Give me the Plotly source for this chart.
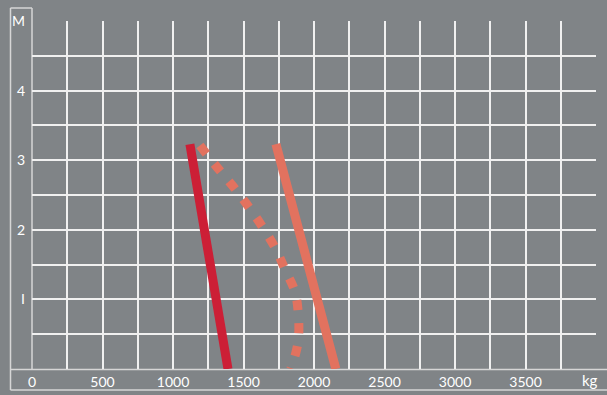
import plotly.graph_objects as go

# Data
x_ticks = list(range(0, 4001, 250))
x_labels = [str(v) if v % 500 == 0 and v < 4000 else "" for v in x_ticks]
y_ticks = [i * 0.5 for i in range(11)]
y_labels = ["" if v != int(v) or v == 0 else ("M" if v == 5 else ("I" if v == 1 else str(int(v)))) for v in y_ticks]

solid_dark_kg = [1120, 1390]
solid_dark_m = [3.23, 0.0]

solid_light_kg = [1730, 2155]
solid_light_m = [3.23, 0.0]

dotted_kg = [1191, 1300, 1416, 1522, 1622, 1730, 1794, 1865, 1889, 1889, 1860, 1835]
dotted_m = [3.21, 2.93, 2.65, 2.37, 2.08, 1.72, 1.43, 1.11, 0.78, 0.42, 0.15, 0.0]

BG = "#808487"
RED = "#cc1f36"
SALMON = "#e2725f"
GRID = "#f0f0f0"
FRAME = "#d6d6d6"

fig = go.Figure()
fig.add_trace(go.Scatter(x=solid_dark_kg, y=solid_dark_m, mode="lines",
                         line=dict(color=RED, width=9), showlegend=False))
fig.add_trace(go.Scatter(x=dotted_kg, y=dotted_m, mode="lines",
                         line=dict(color=SALMON, width=9, dash="10px,13px", shape="spline"),
                         showlegend=False))
fig.add_trace(go.Scatter(x=solid_light_kg, y=solid_light_m, mode="lines",
                         line=dict(color=SALMON, width=9), showlegend=False))

L, R, T, B = 32, 11, 21, 26
W, H = 607, 395
pw, ph = W - L - R, H - T - B


def px(xp):
    return (xp - L) / pw


def py(yp):
    return (H - B - yp) / ph


shapes = []
frame_lines = [
    (10.5, 8, 10.5, 390),
    (10.5, 8, 32, 8),
    (32, 8, 32, 369),
    (10.5, 369.5, 607, 369.5),
    (10.5, 390, 607, 390),
]
for x0, y0, x1, y1 in frame_lines:
    shapes.append(dict(type="line", xref="paper", yref="paper",
                       x0=px(x0), y0=py(y0), x1=px(x1), y1=py(y1),
                       line=dict(color=FRAME, width=1.5), layer="below"))

fig.update_layout(
    width=W, height=H,
    margin=dict(l=L, r=R, t=T, b=B, autoexpand=False),
    paper_bgcolor=BG, plot_bgcolor=BG,
    font=dict(family="Lato", color="white", size=14),
    shapes=shapes,
    xaxis=dict(range=[0, 4000], tickvals=x_ticks, ticktext=x_labels,
               showgrid=True, gridcolor=GRID, gridwidth=1.5,
               zeroline=False, showline=False, ticks="", automargin=False,
               ticklabelstandoff=3, fixedrange=True),
    yaxis=dict(range=[0, 5], tickvals=y_ticks, ticktext=y_labels,
               showgrid=True, gridcolor=GRID, gridwidth=1.5,
               zeroline=False, showline=False, ticks="", automargin=False,
               ticklabelstandoff=6, fixedrange=True),
    annotations=[dict(text="kg", xref="paper", yref="paper",
                      x=px(590), y=py(380), xanchor="center", yanchor="middle",
                      showarrow=False, font=dict(family="Lato", size=15, color="white"))],
)

fig.write_html("out.html")
